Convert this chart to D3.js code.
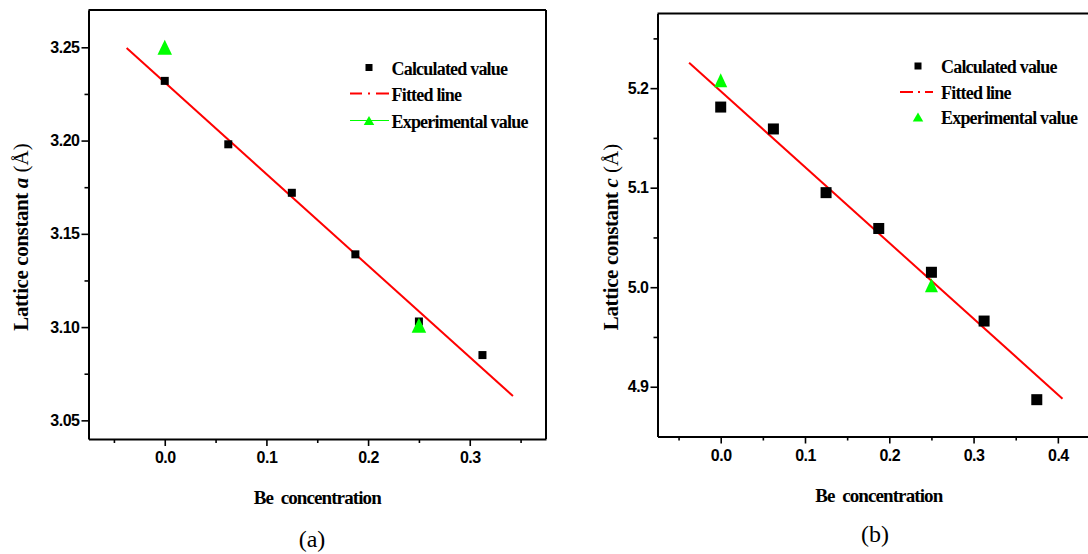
<!DOCTYPE html>
<html>
<head>
<meta charset="utf-8">
<script src="https://cdn.jsdelivr.net/npm/d3@7/dist/d3.min.js"></script>
<style>
  html, body { margin: 0; padding: 0; background: #fff; }
  svg { display: block; }
  .tick-label { font-family: "Liberation Sans", Arial, sans-serif; font-weight: bold; font-size: 16px; letter-spacing: -0.5px; }
  .serif { font-family: "Liberation Serif", "Times New Roman", serif; }
</style>
</head>
<body>
<svg id="chart" width="1088" height="554"></svg>
<script>
// ---------------- DATA ----------------
const concentration = [0, 0.0625, 0.125, 0.1875, 0.25, 0.3125, 0.375];
const calcA = [3.232, 3.198, 3.172, 3.139, 3.103, 3.085];          // panel (a), first 6 concentrations
const calcC = [5.181, 5.159, 5.095, 5.059, 5.015, 4.966, 4.887];   // panel (b), all 7 concentrations
const expConcentration = [0, 0.25];
const expA = [3.250, 3.101];
const expC = [5.208, 5.002];
const fitAx = [-0.0375, 0.3425];
const fitAy = [3.2496, 3.063];
const fitCx = [-0.0375, 0.4055];
const fitCy = [5.2255, 4.888];
const xTicksA = [0, 0.1, 0.2, 0.3];
const xTicksC = [0, 0.1, 0.2, 0.3, 0.4];
const xMinor = [-0.05, 0.05, 0.15, 0.25, 0.35];
const yTicksA = [3.05, 3.10, 3.15, 3.20, 3.25];
const yMinorA = [3.075, 3.125, 3.175, 3.225];
const yTicksC = [4.9, 5.0, 5.1, 5.2];
const yMinorC = [4.95, 5.05, 5.15, 5.25];
const legendLabels = ["Calculated value", "Fitted line", "Experimental value"];
const panelLabels = ["(a)", "(b)"];
const xTitle = "Be  concentration";

// ---------------- DRAW ----------------
const svg = d3.select("#chart");

function drawPanel(cfg) {
  const g = svg.append("g");
  const x = d3.scaleLinear().domain(cfg.xDomain).range(cfg.xRange);
  const y = d3.scaleLinear().domain(cfg.yDomain).range(cfg.yRange);
  const [x0, x1] = cfg.xRange, [y0, y1] = cfg.yRange;

  // frame lines (top and optional right)
  g.append("line").attr("x1", x0).attr("x2", x1).attr("y1", y1).attr("y2", y1)
    .attr("stroke", "#000").attr("stroke-width", 2);
  if (cfg.rightBorder) {
    g.append("line").attr("x1", x1).attr("x2", x1).attr("y1", y0).attr("y2", y1)
      .attr("stroke", "#000").attr("stroke-width", 2);
  }

  // x axis
  const fmt = d3.format(".1f");
  const xAxisG = g.append("g").attr("transform", `translate(0,${y0})`)
    .call(d3.axisBottom(x).tickValues(cfg.xTicks).tickSize(7).tickSizeOuter(0).tickPadding(6).tickFormat(fmt));
  g.append("g").attr("transform", `translate(0,${y0})`)
    .call(d3.axisBottom(x).tickValues(xMinor.filter(v => v > cfg.xDomain[0] && v < cfg.xDomain[1]))
      .tickSize(4).tickSizeOuter(0).tickFormat(""))
    .select(".domain").remove();

  // y axis
  const yAxisG = g.append("g").attr("transform", `translate(${x0},0)`)
    .call(d3.axisLeft(y).tickValues(cfg.yTicks).tickSize(7).tickSizeOuter(0).tickPadding(2).tickFormat(cfg.yFmt));
  g.append("g").attr("transform", `translate(${x0},0)`)
    .call(d3.axisLeft(y).tickValues(cfg.yMinor).tickSize(4).tickSizeOuter(0).tickFormat(""))
    .select(".domain").remove();

  g.selectAll(".domain").attr("stroke", "#000").attr("stroke-width", 2);
  g.selectAll(".tick line").attr("stroke", "#000").attr("stroke-width", 1.6);
  g.selectAll(".tick text").attr("class", "tick-label").attr("fill", "#000");
  xAxisG.selectAll(".tick text").attr("dy", "0.71em").attr("y", 13);

  // axis titles
  g.append("text").attr("class", "serif")
    .attr("x", (x0 + Math.min(x1, 1100)) / 2).attr("y", cfg.xTitleY)
    .attr("text-anchor", "middle").attr("font-weight", "bold").attr("font-size", 19)
    .attr("letter-spacing", "-0.9px").attr("fill", "#000")
    .style("white-space", "pre").text(xTitle);

  const yt = g.append("text").attr("class", "serif")
    .attr("transform", `translate(${cfg.yTitleX},${cfg.yTitleCY}) rotate(-90)`)
    .attr("text-anchor", "middle").attr("font-size", 21).attr("fill", "#000")
    .style("white-space", "pre");
  yt.append("tspan").attr("font-weight", "bold").attr("letter-spacing", "-0.4px").text("Lattice constant ");
  yt.append("tspan").attr("font-weight", "bold").attr("font-style", "italic").text(cfg.yVar);
  yt.append("tspan").text(" (Å)");

  // panel label
  g.append("text").attr("class", "serif")
    .attr("x", cfg.panelLabelX).attr("y", cfg.panelLabelY)
    .attr("text-anchor", "middle").attr("font-size", 24).attr("fill", "#000")
    .text(cfg.panelLabel);

  // fitted line
  const line = d3.line().x(d => x(d[0])).y(d => y(d[1]));
  g.append("path").datum(cfg.fitX.map((v, i) => [v, cfg.fitY[i]]))
    .attr("d", line).attr("fill", "none").attr("stroke", "#ff0000").attr("stroke-width", 2);

  // calculated squares
  const s = cfg.squareSize;
  g.selectAll("rect.calc").data(cfg.calc).enter().append("rect")
    .attr("x", (d, i) => x(concentration[i]) - s / 2)
    .attr("y", d => y(d) - s / 2)
    .attr("width", s).attr("height", s).attr("fill", "#000");

  // experimental triangles
  const tri = (w, h) => `M0,${-h / 2}L${w / 2},${h / 2}L${-w / 2},${h / 2}Z`;
  g.selectAll("path.exp").data(cfg.exp).enter().append("path")
    .attr("transform", (d, i) => `translate(${x(expConcentration[i])},${y(d)})`)
    .attr("d", tri(cfg.triW, cfg.triH)).attr("fill", "#00ff00");

  // legend
  const L = cfg.legend;
  legendLabels.forEach((t, i) => {
    g.append("text").attr("class", "serif")
      .attr("x", L.textX).attr("y", L.rows[i] + 7)
      .attr("font-weight", "bold").attr("font-size", 18)
      .attr("letter-spacing", "-0.8px").attr("fill", "#000").text(t);
  });
  g.append("rect").attr("x", L.symX - 3.5).attr("y", L.rows[0] - 3.5)
    .attr("width", 7).attr("height", 7).attr("fill", "#000");
  g.append("line").attr("x1", L.lineX[0]).attr("x2", L.lineX[1])
    .attr("y1", L.rows[1]).attr("y2", L.rows[1])
    .attr("stroke", "#ff0000").attr("stroke-width", 2).attr("stroke-dasharray", L.dash);
  if (L.expLine) {
    g.append("line").attr("x1", L.lineX[0]).attr("x2", L.lineX[1])
      .attr("y1", L.rows[2]).attr("y2", L.rows[2])
      .attr("stroke", "#00ff00").attr("stroke-width", 1);
  }
  g.append("path").attr("transform", `translate(${L.symX},${L.rows[2]})`)
    .attr("d", tri(10.5, 9)).attr("fill", "#00ff00");
}

drawPanel({
  xDomain: [-0.075, 0.375], xRange: [88.5, 546],
  yDomain: [3.04, 3.27], yRange: [439, 10],
  rightBorder: true,
  xTicks: xTicksA, yTicks: yTicksA, yMinor: yMinorA, yFmt: d3.format(".2f"),
  xTitleY: 504, yTitleX: 28, yTitleCY: 237, yVar: "a",
  panelLabel: panelLabels[0], panelLabelX: 312, panelLabelY: 547,
  fitX: fitAx, fitY: fitAy, calc: calcA, exp: expA,
  squareSize: 8, triW: 14.5, triH: 15,
  legend: { symX: 369, textX: 391.5, rows: [67.5, 93.5, 120.5], lineX: [350, 389],
            dash: "12,6,2,6,13", expLine: true }
});

drawPanel({
  xDomain: [-0.075, 0.45], xRange: [657.5, 1100],
  yDomain: [4.85, 5.275], yRange: [436.5, 13.5],
  rightBorder: false,
  xTicks: xTicksC, yTicks: yTicksC, yMinor: yMinorC, yFmt: d3.format(".1f"),
  xTitleY: 501.5, yTitleX: 618, yTitleCY: 237, yVar: "c",
  panelLabel: panelLabels[1], panelLabelX: 875, panelLabelY: 542,
  fitX: fitCx, fitY: fitCy, calc: calcC, exp: expC,
  squareSize: 11, triW: 13, triH: 14,
  legend: { symX: 918, textX: 941, rows: [66, 92, 117], lineX: [900, 933],
            dash: "13,5,2,5,9", expLine: false }
});
</script>
</body>
</html>
